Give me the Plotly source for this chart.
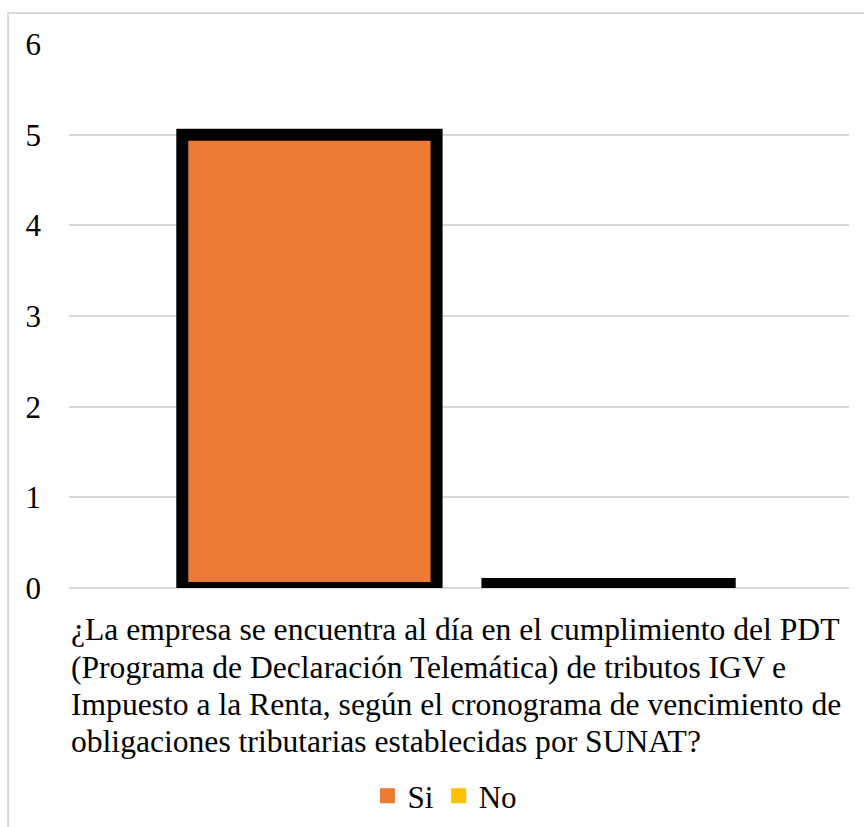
import plotly.graph_objects as go

# ---- data ----
category_lines = [
    "¿La empresa se encuentra al día en el cumplimiento del PDT",
    "(Programa de Declaración Telemática) de tributos IGV e",
    "Impuesto a la Renta, según el cronograma de vencimiento de",
    "obligaciones tributarias establecidas por SUNAT?",
]
category = " ".join(category_lines)
series_names = ["Si", "No"]
si_values = [5]
no_values = [0]
y_ticks = [0, 1, 2, 3, 4, 5, 6]

FONT = "Liberation Serif"
ORANGE = "#EC7B34"
YELLOW = "#FFC000"

W, H = 864, 827
ML, MR, MT, MB = 69, 15, 44, 239
PH = H - MT - MB

fig = go.Figure()
fig.add_trace(go.Bar(
    x=[category], y=si_values, name=series_names[0], showlegend=False,
    marker=dict(color=ORANGE, line=dict(color="black", width=12)),
))
fig.add_trace(go.Bar(
    x=[category], y=no_values, name=series_names[1], showlegend=False,
    marker=dict(color=YELLOW, line=dict(color="black", width=20)),
))
# legend entries (no outline, like the reference)
for nm, col in zip(series_names, [ORANGE, YELLOW]):
    fig.add_trace(go.Scatter(
        x=[None], y=[None], mode="markers", name=nm,
        marker=dict(symbol="square", size=15, color=col),
    ))

# category label, left-aligned wrapped lines (Excel-like line spacing)
line_centers_px = [629, 667, 704, 741]
for txt, yc in zip(category_lines, line_centers_px):
    fig.add_annotation(
        text=txt, x=0.0, xref="paper", xanchor="left",
        y=(H - MB - yc) / PH, yref="paper", yanchor="middle",
        showarrow=False, font=dict(family=FONT, size=31.6, color="black"),
    )

# outer chart frame
fig.add_shape(type="rect", xref="paper", yref="paper",
              x0=-0.078, x1=1.03, y0=-0.46, y1=1.057,
              line=dict(color="#D9D9D9", width=2), fillcolor="rgba(0,0,0,0)",
              layer="below")

fig.update_layout(
    width=W, height=H,
    margin=dict(l=ML, r=MR, t=MT, b=MB, autoexpand=False),
    paper_bgcolor="white", plot_bgcolor="white",
    barmode="group", bargap=0.233, bargroupgap=0.15,
    font=dict(family=FONT, size=31, color="black"),
    showlegend=True,
    legend=dict(orientation="h", x=0.515, xref="container", xanchor="center",
                y=(H - 796) / H, yref="container", yanchor="middle",
                font=dict(family=FONT, size=31, color="black"),
                itemwidth=30, tracegroupgap=0, bgcolor="rgba(0,0,0,0)"),
    xaxis=dict(showticklabels=False, showgrid=False, zeroline=False, showline=False,
               ticks=""),
    yaxis=dict(range=[0, 6], tickvals=y_ticks, showgrid=True, gridcolor="#D9D9D9",
               gridwidth=2, zeroline=True, zerolinecolor="#D9D9D9", zerolinewidth=2,
               showline=False, ticks="", ticklabelstandoff=27,
               tickfont=dict(family=FONT, size=31, color="black")),
)

fig.write_html("out.html")
